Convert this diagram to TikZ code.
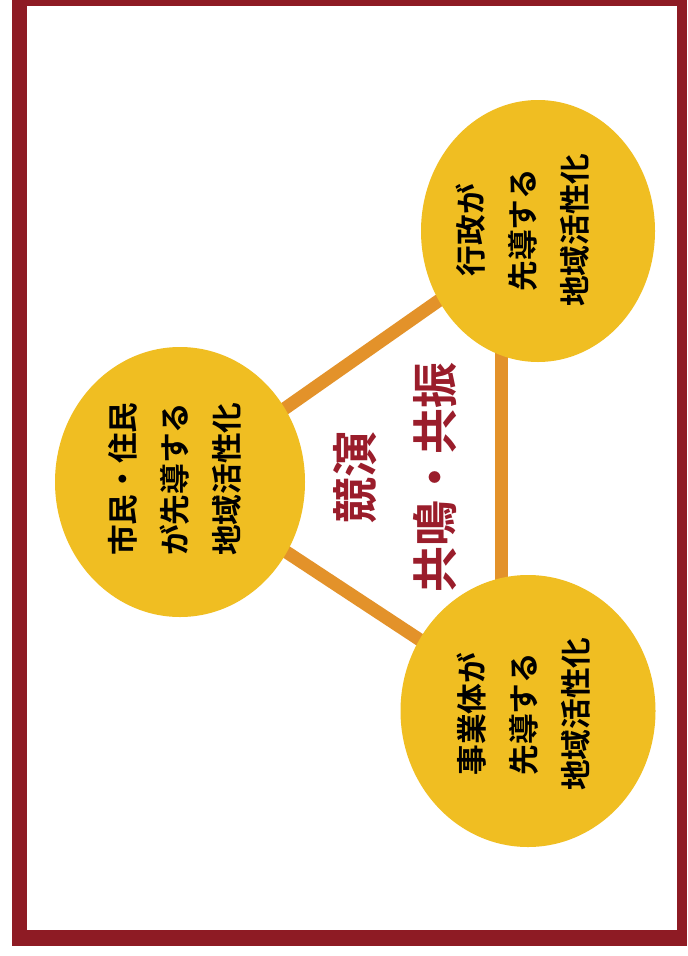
\documentclass[tikz,border=0pt]{standalone}
\usepackage{fontspec}
\newfontfamily\cjk{Noto Sans CJK JP}[BoldFont={Noto Sans CJK JP Bold}]
\usetikzlibrary{shapes.geometric,backgrounds}
\definecolor{frame}{HTML}{8E1B24}
\definecolor{bubblefill}{HTML}{F0BE22}
\definecolor{linkcol}{HTML}{E3922A}
\definecolor{keyred}{HTML}{9A1D2B}
\tikzset{
  bubble/.style={ellipse, fill=bubblefill, draw=none, inner sep=0pt},
  bubbletext/.style={rotate=90, align=center, text=black, inner sep=0pt,
    font=\cjk\bfseries\fontsize{23}{39}\selectfont},
  keytext/.style={rotate=90, align=center, text=keyred, inner sep=0pt,
    font=\cjk\bfseries\fontsize{34.5}{60}\selectfont},
  link/.style={draw=linkcol, line width=9.75pt}
}
\begin{document}
\begin{tikzpicture}[x=0.75pt,y=-0.75pt]
\useasboundingbox (0,0) rectangle (687,956);
% bubbles
\node[bubble, minimum width=175.5pt, minimum height=196.5pt] (gov) at (538,231) {};
\node[bubble, minimum width=187.5pt, minimum height=202.5pt] (cit) at (180,482) {};
\node[bubble, minimum width=191.25pt, minimum height=204pt] (biz) at (528,711) {};
\coordinate (gv) at (501,300);
\coordinate (bv) at (501,650);
\begin{scope}[on background layer]
  \fill[white] (0,0) rectangle (687,956);
  \fill[frame] (12,0) rectangle (687,946);
  \fill[white] (27,6) rectangle (677,930);
  \draw[link] (cit.center) -- (gov.center);
  \draw[link] (cit.center) -- (biz.center);
  \draw[link] (gv) -- (bv);
\end{scope}
% texts
\node[bubbletext] (govtext) at (523,230) {行政が\\先導する\\地域活性化};
\node[bubbletext] (cittext) at (175,479) {市民・住民\\が先導する\\地域活性化};
\node[bubbletext] (biztext) at (524,714) {事業体が\\先導する\\地域活性化};
\node[keytext] (key) at (395,477) {競演\\共鳴・共振};
\end{tikzpicture}
\end{document}
